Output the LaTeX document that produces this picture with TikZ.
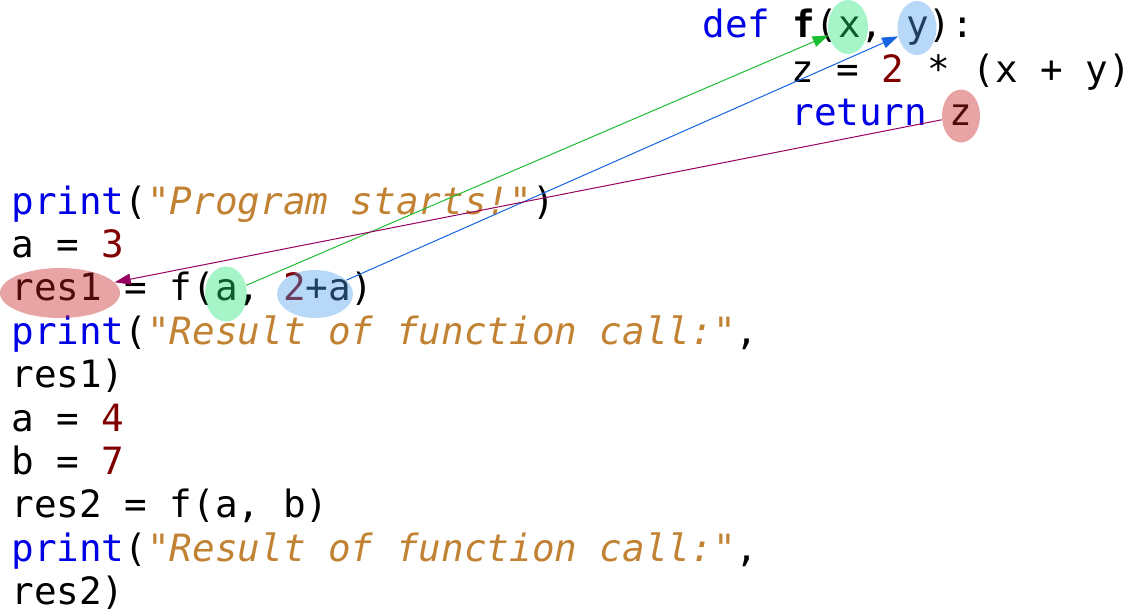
\documentclass[tikz,border=0pt]{standalone}
\usepackage{fontspec}
\setmonofont{DejaVu Sans Mono}
\usetikzlibrary{positioning,shapes.geometric,arrows.meta}

\definecolor{kwblue}{RGB}{0,0,230}
\definecolor{strbrown}{RGB}{194,130,52}
\definecolor{numred}{RGB}{128,0,0}
\definecolor{hlgreen}{RGB}{33,230,118}
\definecolor{hlblue}{RGB}{78,158,238}
\definecolor{hlred}{RGB}{198,28,28}
\definecolor{xarrow}{RGB}{30,190,50}
\definecolor{yarrow}{RGB}{20,100,225}
\definecolor{retarrow}{RGB}{150,0,95}

\newcommand{\pykw}[1]{\textcolor{kwblue}{#1}}
\newcommand{\pystr}[1]{\textcolor{strbrown}{\itshape #1}}
\newcommand{\pynum}[1]{\textcolor{numred}{#1}}

\begin{document}
\begin{tikzpicture}[x=0.5pt,y=-0.5pt,node distance=21.7pt,on grid,
    code/.style={font=\ttfamily\fontsize{18.8pt}{22pt}\selectfont,inner sep=0pt,anchor=base west},
    hl/.style={ellipse,fill=#1,fill opacity=0.4,inner sep=0pt},
    pass/.style={line width=0.5pt,-{Triangle[length=8pt,width=5.5pt]}}]
   \useasboundingbox (0,0) rectangle (1125,612);
   % function definition
   \node[code] (d1) at (702,37) {\pykw{def} \textbf{f}(x, y):};
   \node[code] (d2) at (791,82) {z = \pynum{2} * (x + y)};
   \node[code] (d3) [below=of d2.base west,anchor=base west] {\pykw{return} z};
   % main program
   \node[code] (l1) at (11,214) {\pykw{print}(\pystr{"Program starts!"})};
   \node[code] (l2) [below=of l1.base west,anchor=base west] {a = \pynum{3}};
   \node[code] (l3) [below=of l2.base west,anchor=base west] {res1 = f(a, \pynum{2}+a)};
   \node[code] (l4) [below=of l3.base west,anchor=base west] {\pykw{print}(\pystr{"Result of function call:"},};
   \node[code] (l5) [below=of l4.base west,anchor=base west] {res1)};
   \node[code] (l6) [below=of l5.base west,anchor=base west] {a = \pynum{4}};
   \node[code] (l7) [below=of l6.base west,anchor=base west] {b = \pynum{7}};
   \node[code] (l8) [below=of l7.base west,anchor=base west] {res2 = f(a, b)};
   \node[code] (l9) [below=of l8.base west,anchor=base west] {\pykw{print}(\pystr{"Result of function call:"},};
   \node[code] (l10) [below=of l9.base west,anchor=base west] {res2)};
   % highlights
   \node[hl=hlgreen,minimum width=20pt,minimum height=27pt] (parx) at (848,27) {};
   \node[hl=hlblue,minimum width=19.5pt,minimum height=27pt] (pary) at (917,28) {};
   \node[hl=hlred,minimum width=19pt,minimum height=26.5pt] (retz) at (961,116) {};
   \node[hl=hlred,minimum width=60pt,minimum height=25pt] (resone) at (60,293) {};
   \node[hl=hlgreen,minimum width=21pt,minimum height=27.5pt] (arga) at (226,294) {};
   \node[hl=hlblue,minimum width=38pt,minimum height=24pt] (argb) at (315,294) {};
   \draw[pass,xarrow] (arga) -- (parx);
   \draw[pass,yarrow] (argb) -- (pary);
   \draw[pass,retarrow] (retz) -- (resone);
\end{tikzpicture}
\end{document}
